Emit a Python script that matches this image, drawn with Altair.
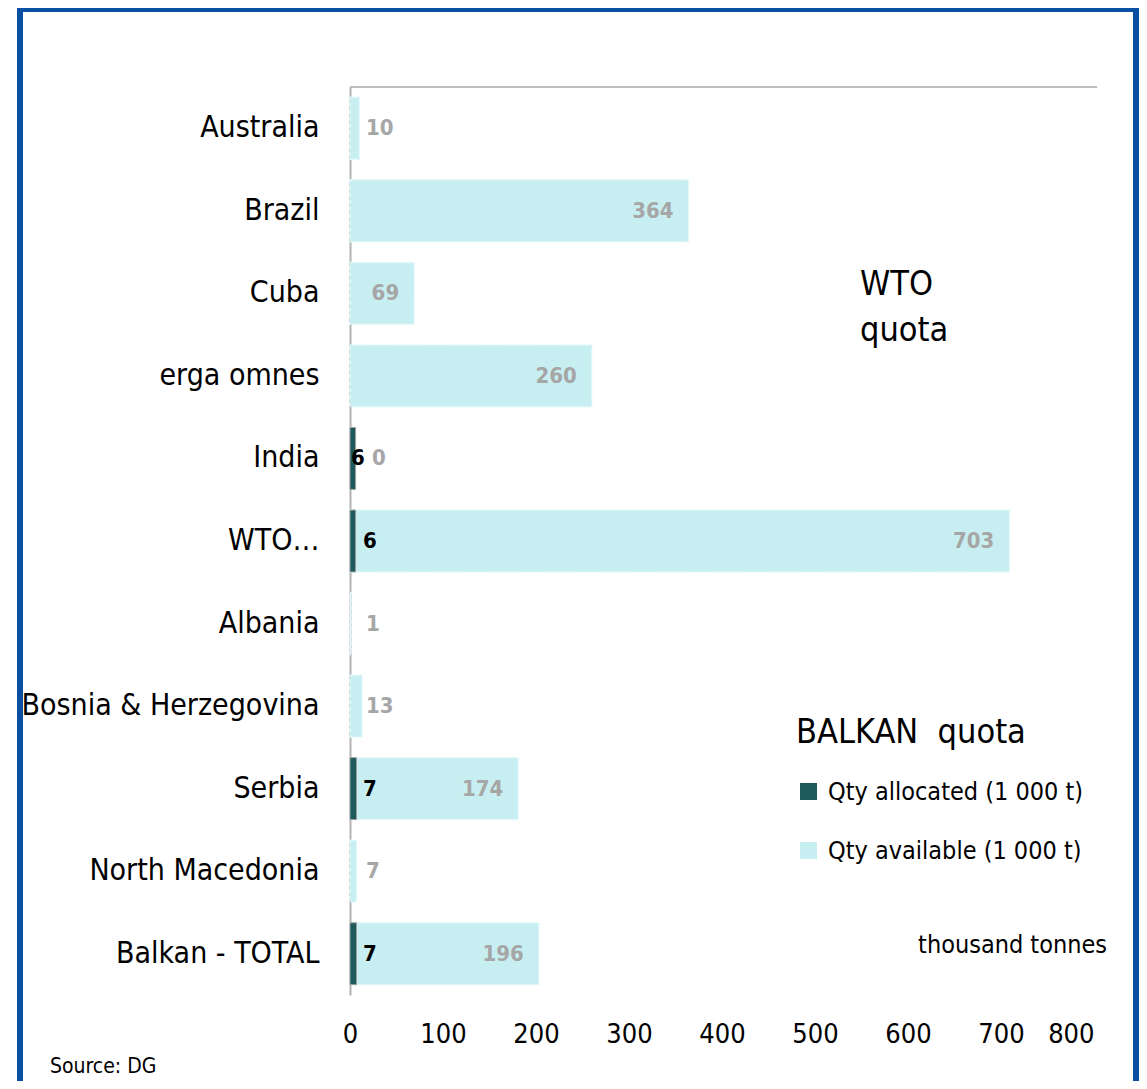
import altair as alt
import pandas as pd

countries = ["Australia", "Brazil", "Cuba", "erga omnes", "India", "WTO…",
             "Albania", "Bosnia & Herzegovina", "Serbia", "North Macedonia",
             "Balkan - TOTAL"]
allocated = [0, 0, 0, 0, 6, 6, 0, 0, 7, 0, 7]
available = [10, 364, 69, 260, 0, 703, 1, 13, 174, 7, 196]
series = ["Qty allocated (1 000 t)", "Qty available (1 000 t)"]
x_ticks = [0, 100, 200, 300, 400, 500, 600, 700, 800]

df = pd.DataFrame({"country": countries, "alloc": allocated, "avail": available})

FONT = "DejaVu Sans Condensed"
DARK = "#1d5a5c"
LIGHT = "#c7eff2"
GREYTXT = "#a6a6a6"

color_scale = alt.Scale(domain=series, range=[DARK, LIGHT])

y_enc = alt.Y("country:N", sort=countries, title=None,
              scale=alt.Scale(paddingInner=0.25, paddingOuter=0.125),
              axis=alt.Axis(labelFontSize=30, labelFont=FONT, labelColor="black",
                            labelPadding=31, labelLimit=400, ticks=False,
                            domainColor="#b3b3b3", domainWidth=2))

x_enc = alt.X("start:Q", title=None, scale=alt.Scale(domain=[0, 800]),
              axis=alt.Axis(values=x_ticks, grid=False, domain=False, ticks=False,
                            labelFontSize=27, labelFont=FONT, labelColor="black",
                            labelPadding=26, labelFlush=False,
                            labelAlign={"expr": "datum.value == 800 ? 'right' : 'center'"}))

base = alt.Chart(df).transform_calculate(start="0", total="datum.alloc + datum.avail")

frame = alt.Chart(pd.DataFrame({"k": [0]})).mark_rect(
    fillOpacity=0, stroke="#0b4fa2", strokeWidth=6
).encode(x=alt.value(-330), x2=alt.value(786), y=alt.value(-78), y2=alt.value(1010))

top_rule = alt.Chart(pd.DataFrame({"k": [0]})).mark_rule(
    color="#bdbdbd", strokeWidth=2
).encode(x=alt.value(0), x2=alt.value(747), y=alt.value(0))

legend = alt.Legend(
    title="BALKAN\u00a0\u00a0quota", orient="none", legendX=446, legendY=629,
    titleFontSize=34, titleFont=FONT, titleFontWeight="normal", titleColor="black",
    titleLimit=500, titlePadding=29, labelFontSize=25, labelFont=FONT,
    labelColor="black", labelLimit=500, labelOffset=7, rowPadding=33,
    symbolType="square", symbolSize=289, symbolStrokeWidth=0, padding=0)

avail_bar = base.transform_filter("datum.avail > 0").transform_calculate(
    series="'" + series[1] + "'"
).mark_bar(
    stroke="#e3f7f9", strokeDash=[4, 3], strokeWidth=1.5
).encode(
    x=x_enc, x2="total:Q", y=y_enc,
    color=alt.Color("series:N", scale=color_scale, legend=legend),
)

alloc_bar = base.transform_filter("datum.alloc > 0").transform_calculate(
    series="'" + series[0] + "'"
).mark_bar(
    stroke="#a0a0a0", strokeWidth=1
).encode(
    x=alt.X("start:Q", title=None), x2="alloc:Q", y=y_enc,
    color=alt.Color("series:N", scale=color_scale, legend=legend),
)

txt = dict(baseline="middle", fontWeight="bold", fontSize=22, font=FONT)

alloc_lbl = base.transform_filter("datum.alloc > 0 && datum.avail > 0").mark_text(
    align="left", dx=13, color="black", **txt
).encode(x=alt.X("start:Q", title=None), y=y_enc, text="alloc:Q")

alloc_lbl0 = base.transform_filter("datum.alloc > 0 && datum.avail == 0").mark_text(
    align="left", dx=1, color="black", **txt
).encode(x=alt.X("start:Q", title=None), y=y_enc, text="alloc:Q")

avail_big = base.transform_filter("datum.avail >= 50").mark_text(
    align="right", dx=-15, color=GREYTXT, **txt
).encode(x=alt.X("total:Q", title=None), y=y_enc, text="avail:Q")

avail_small = base.transform_filter("datum.avail < 50 && datum.alloc == 0").mark_text(
    align="left", dx=16, color=GREYTXT, **txt
).encode(x=alt.X("start:Q", title=None), y=y_enc, text="avail:Q")

avail_small2 = base.transform_filter("datum.avail < 50 && datum.alloc > 0").mark_text(
    align="left", dx=22, color=GREYTXT, **txt
).encode(x=alt.X("start:Q", title=None), y=y_enc, text="avail:Q")


def note(text, x, y, size, align="left"):
    return alt.Chart(pd.DataFrame({"k": [0]})).mark_text(
        text=text, align=align, baseline="alphabetic", fontSize=size, font=FONT,
        color="black"
    ).encode(x=alt.value(x), y=alt.value(y))


notes = [
    note("WTO", 510, 208, 34),
    note("quota", 510, 254, 34),
    note("thousand tonnes", 757, 866, 25, align="right"),
    note("Source: DG", -300, 986, 21),
]

chart = alt.layer(
    frame, top_rule, avail_bar, alloc_bar, alloc_lbl, alloc_lbl0,
    avail_big, avail_small, avail_small2, *notes
).properties(
    width=744, height=908, background="white",
    autosize=alt.AutoSizeParams(type="none"),
    padding={"left": 342, "top": 79, "right": 45, "bottom": 86},
).configure_view(stroke="transparent", strokeWidth=0)

chart.save("out.html", embed_options={"renderer": "svg", "actions": False})
